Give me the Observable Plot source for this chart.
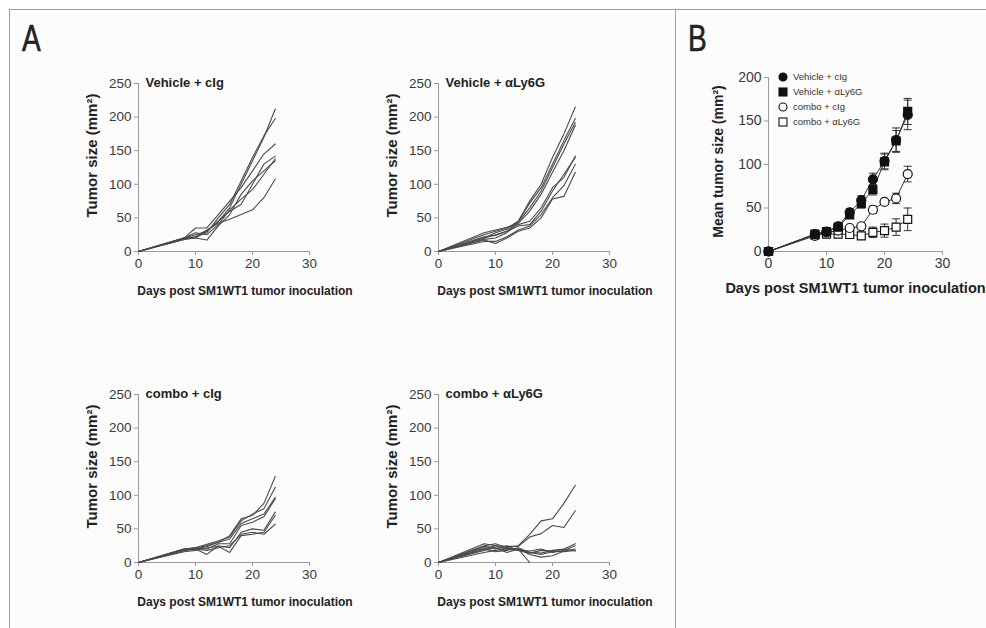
<!DOCTYPE html>
<html>
<head>
<meta charset="utf-8">
<script src="https://cdn.jsdelivr.net/npm/d3@7"></script>
<script src="https://cdn.jsdelivr.net/npm/@observablehq/plot@0.6"></script>
<style>
  html, body { margin: 0; padding: 0; background: #ffffff; }
  #root { position: relative; width: 986px; height: 628px; overflow: hidden; font-family: "Liberation Sans", Arial, sans-serif; }
  .frame { position: absolute; background: #a0a0a0; }
  .panelbg { position: absolute; background: #fcfcfc; }
  .plot { position: absolute; }
  .plot svg { overflow: visible; }
  .letter { position: absolute; font-family: "Liberation Sans", Arial, sans-serif; font-size: 36px; color: #222; transform-origin: left top; transform: scaleX(0.78); line-height: 1; -webkit-text-stroke: 0.6px #222; }
  .legend { position: absolute; font-size: 9.5px; color: #333; }
  .legend .row { height: 15px; display: flex; align-items: center; }
  .legend svg { margin-right: 4px; }
</style>
</head>
<body>
<div id="root"></div>
<script>
// ---------------- data ----------------
const days = [0, 8, 10, 12, 14, 16, 18, 20, 22, 24];
const xTicks = [0, 10, 20, 30];
const yTicksA = [0, 50, 100, 150, 200, 250];
const yTicksB = [0, 50, 100, 150, 200];

const xTitle = "Days post SM1WT1 tumor inoculation";
const yTitleA = "Tumor size (mm²)";
const yTitleB = "Mean tumor size (mm²)";

const groupNames = ["Vehicle + cIg", "Vehicle + αLy6G", "combo + cIg", "combo + αLy6G"];

// individual mice, panel A (values per day in `days`)
const vehicleCigMice = [
  [0, 20, 25, 30, 45, 65, 100, 135, 170, 212],
  [0, 18, 22, 28, 50, 70, 105, 140, 172, 198],
  [0, 20, 35, 35, 55, 75, 95, 120, 145, 160],
  [0, 19, 20, 30, 45, 60, 70, 100, 130, 142],
  [0, 20, 28, 25, 40, 62, 78, 92, 115, 138],
  [0, 18, 20, 17, 38, 55, 85, 105, 120, 135],
  [0, 20, 22, 32, 42, 48, 55, 62, 80, 108]
];
const vehicleLy6GMice = [
  [0, 25, 30, 35, 45, 75, 100, 140, 175, 215],
  [0, 20, 28, 33, 45, 72, 95, 130, 165, 198],
  [0, 22, 24, 30, 44, 65, 90, 125, 160, 192],
  [0, 18, 20, 28, 42, 60, 85, 118, 150, 188],
  [0, 28, 32, 36, 40, 45, 65, 95, 110, 142],
  [0, 20, 25, 30, 38, 40, 60, 90, 115, 140],
  [0, 15, 15, 22, 32, 38, 55, 80, 98, 130],
  [0, 17, 12, 20, 30, 35, 50, 78, 82, 118]
];
const comboCigMice = [
  [0, 20, 22, 25, 30, 40, 65, 70, 88, 128],
  [0, 20, 22, 27, 32, 38, 62, 72, 80, 112],
  [0, 18, 20, 24, 30, 35, 58, 65, 72, 97],
  [0, 18, 22, 20, 28, 28, 55, 60, 68, 95],
  [0, 20, 20, 12, 25, 22, 45, 50, 48, 75],
  [0, 16, 18, 22, 24, 15, 40, 42, 45, 70],
  [0, 18, 20, 18, 22, 25, 42, 45, 42, 57]
];
const comboLy6GMice = [
  [0, 25, 28, 22, 25, 42, 62, 65, 88, 115],
  [0, 20, 25, 24, 24, 38, 43, 55, 52, 77],
  [0, 28, 25, 20, 20, 15, 14, 18, 20, 28],
  [0, 22, 20, 25, 18, 17, 20, 15, 18, 25],
  [0, 18, 22, 15, 20, 12, 8, 10, 17, 20],
  [0, 15, 18, 20, 18, 14, 18, 17, 16, 18],
  [0, 20, 16, 18, 22, 15, 12, 16, 20, 17],
  [0, 24, 22, 21, 20, 0]
];

// panel B: means and error (SEM) per day
const vehicleCigMean  = [0, 20, 23, 29, 45, 59, 83, 104, 128, 157];
const vehicleCigErr   = [0, 1, 2, 2, 4, 5, 7, 9, 14, 17];
const vehicleLy6GMean = [0, 20, 23, 28, 42, 55, 71, 103, 127, 161];
const vehicleLy6GErr  = [0, 1, 2, 2, 4, 5, 6, 9, 12, 15];
const comboCigMean    = [0, 18, 22, 24, 27, 29, 48, 57, 61, 89];
const comboCigErr     = [0, 1, 2, 2, 2, 3, 4, 3, 6, 9];
const comboLy6GMean   = [0, 19, 20, 20, 19.5, 18, 22, 24, 28, 37];
const comboLy6GErr    = [0, 2, 2, 3, 4, 4, 6, 7.5, 9.5, 13];

// ---------------- helpers ----------------
const axisColor = "#9a9a9a";
const tickText = "#3a3a3a";
const fontStyle = {fontFamily: "Liberation Sans, Arial, sans-serif", background: "transparent", color: "#222"};

function toLong(mice) {
  return mice.flatMap((vals, id) => vals.map((v, i) => ({id, day: days[i], v})));
}

function spaghetti(title, mice) {
  return Plot.plot({
    width: 300, height: 250,
    marginLeft: 98, marginRight: 31, marginTop: 23, marginBottom: 59,
    style: {...fontStyle, fontSize: "13.5px"},
    x: {domain: [0, 30]},
    y: {domain: [0, 250]},
    marks: [
      Plot.ruleX([0], {stroke: axisColor}),
      Plot.ruleY([0], {stroke: axisColor}),
      Plot.axisX({ticks: xTicks, tickSize: 4, tickPadding: 3, stroke: axisColor, fill: tickText, label: null, fontSize: 13.5}),
      Plot.axisY({ticks: yTicksA, tickSize: 4, tickPadding: 3, stroke: axisColor, fill: tickText, label: null, fontSize: 13.5}),
      Plot.line(toLong(mice), {x: "day", y: "v", z: "id", stroke: "#4a4a4a", strokeWidth: 1.1}),
      Plot.text([title], {text: d => d, frameAnchor: "top-left", textAnchor: "start", lineAnchor: "middle", dx: 7, dy: -1, fontWeight: "bold", fontSize: 13, fill: "#222"}),
      Plot.text([xTitle], {text: d => d, frameAnchor: "bottom", textAnchor: "middle", lineAnchor: "middle", dx: 21, dy: 40, fontWeight: "bold", fontSize: 12, fill: "#222"}),
      Plot.text([yTitleA], {text: d => d, frameAnchor: "left", textAnchor: "middle", rotate: -90, lineAnchor: "middle", dx: -46, dy: -12, fontWeight: "bold", fontSize: 15, fill: "#222"})
    ]
  });
}

const capSymbol = {draw(ctx) { ctx.moveTo(-4, 0); ctx.lineTo(4, 0); }};

function seriesB(name, means, errs) {
  return days.map((d, i) => ({name, day: d, m: means[i], lo: means[i] - errs[i], hi: means[i] + errs[i], e: errs[i]}));
}

const bSeries = [
  {data: seriesB(groupNames[3], comboLy6GMean, comboLy6GErr), symbol: "square", fill: "white"},
  {data: seriesB(groupNames[2], comboCigMean, comboCigErr), symbol: "circle", fill: "white"},
  {data: seriesB(groupNames[1], vehicleLy6GMean, vehicleLy6GErr), symbol: "square", fill: "#111"},
  {data: seriesB(groupNames[0], vehicleCigMean, vehicleCigErr), symbol: "circle", fill: "#111"}
];

function meanPlot() {
  const marks = [
    Plot.ruleX([0], {stroke: axisColor}),
    Plot.ruleY([0], {stroke: axisColor}),
    Plot.axisX({ticks: xTicks, tickSize: 4, tickPadding: 3, stroke: axisColor, fill: tickText, label: null, fontSize: 14}),
    Plot.axisY({ticks: yTicksB, tickSize: 4, tickPadding: 3, stroke: axisColor, fill: tickText, label: null, fontSize: 14})
  ];
  for (const s of bSeries) {
    const withErr = s.data.filter(d => d.e > 0);
    marks.push(
      Plot.ruleX(withErr, {x: "day", y1: "lo", y2: "hi", stroke: "#333", strokeWidth: 1}),
      Plot.dot(withErr, {x: "day", y: "hi", symbol: capSymbol, stroke: "#333", fill: "none", strokeWidth: 1}),
      Plot.dot(withErr, {x: "day", y: "lo", symbol: capSymbol, stroke: "#333", fill: "none", strokeWidth: 1}),
      Plot.line(s.data, {x: "day", y: "m", stroke: "#333", strokeWidth: 1})
    );
  }
  for (const s of bSeries) {
    marks.push(Plot.dot(s.data, {x: "day", y: "m", symbol: s.symbol, r: 4.5, fill: s.fill, stroke: "#111", strokeWidth: 1.2}));
  }
  marks.push(
    Plot.text([xTitle], {text: d => d, frameAnchor: "bottom", textAnchor: "middle", lineAnchor: "middle", dx: 0, dy: 37, fontWeight: "bold", fontSize: 14.5, fill: "#222"}),
    Plot.text([yTitleB], {text: d => d, frameAnchor: "left", textAnchor: "middle", rotate: -90, lineAnchor: "middle", dx: -50, dy: -3, fontWeight: "bold", fontSize: 14, fill: "#222"})
  );
  return Plot.plot({
    width: 306, height: 262,
    marginLeft: 88, marginRight: 44, marginTop: 27, marginBottom: 61,
    style: {...fontStyle, fontSize: "14px"},
    x: {domain: [0, 30]},
    y: {domain: [0, 200]},
    marks
  });
}

// ---------------- layout ----------------
const root = document.getElementById("root");
function box(cls, l, t, w, h) {
  const d = document.createElement("div");
  d.className = cls;
  Object.assign(d.style, {left: l + "px", top: t + "px", width: w + "px", height: h + "px"});
  root.appendChild(d);
  return d;
}
box("panelbg", 10, 10, 976, 618);
box("frame", 9, 9, 977, 1);
box("frame", 9, 9, 1, 619);
box("frame", 675, 9, 1, 619);

const la = document.createElement("div"); la.className = "letter"; la.textContent = "A";
Object.assign(la.style, {left: "22px", top: "21px"}); root.appendChild(la);
const lb = document.createElement("div"); lb.className = "letter"; lb.textContent = "B";
Object.assign(lb.style, {left: "688px", top: "21px"}); root.appendChild(lb);

function place(node, l, t) {
  const d = box("plot", l, t, node.getAttribute("width"), node.getAttribute("height"));
  d.appendChild(node);
}
place(spaghetti(groupNames[0], vehicleCigMice), 40, 60);
place(spaghetti(groupNames[1], vehicleLy6GMice), 340, 60);
place(spaghetti(groupNames[2], comboCigMice), 40, 371);
place(spaghetti(groupNames[3], comboLy6GMice), 340, 371);
place(meanPlot(), 680, 50);

// legend for panel B
const legendItems = [
  {name: groupNames[0], shape: "circle", fill: "#111"},
  {name: groupNames[1], shape: "square", fill: "#111"},
  {name: groupNames[2], shape: "circle", fill: "#fff"},
  {name: groupNames[3], shape: "square", fill: "#fff"}
];
const lg = document.createElement("div");
lg.className = "legend";
Object.assign(lg.style, {left: "777px", top: "69px"});
for (const it of legendItems) {
  const row = document.createElement("div");
  row.className = "row";
  const shape = it.shape === "circle"
    ? `<circle cx="6" cy="6" r="4" fill="${it.fill}" stroke="#111" stroke-width="1.1"/>`
    : `<rect x="2" y="2" width="8" height="8" fill="${it.fill}" stroke="#111" stroke-width="1.1"/>`;
  row.innerHTML = `<svg width="12" height="12">${shape}</svg><span>${it.name}</span>`;
  lg.appendChild(row);
}
root.appendChild(lg);
</script>
</body>
</html>
